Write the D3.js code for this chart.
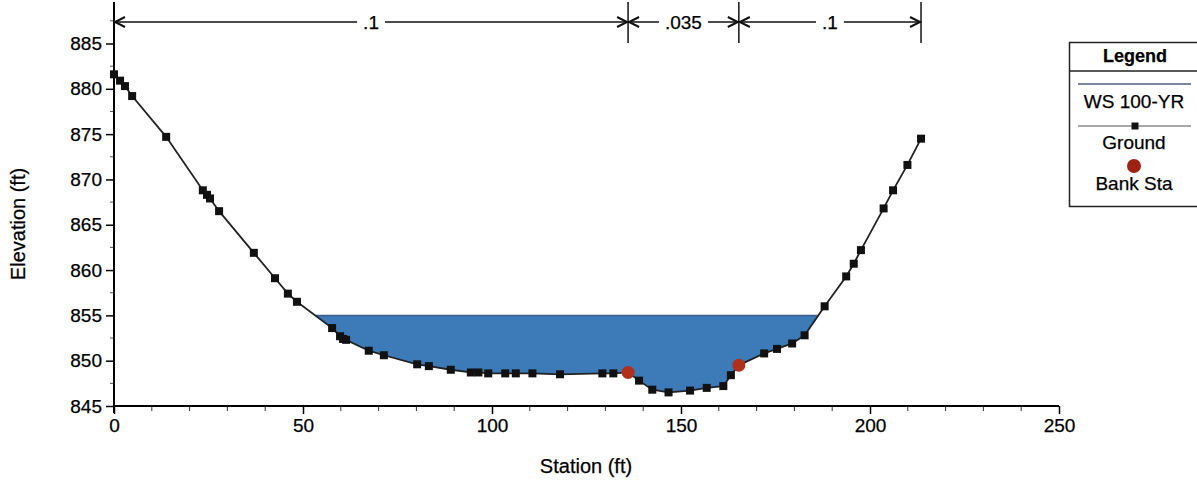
<!DOCTYPE html>
<html>
<head>
<meta charset="utf-8">
<script src="https://cdn.jsdelivr.net/npm/d3@7"></script>
<style>
  html, body { margin: 0; padding: 0; background: #fff; }
  svg { display: block; font-family: "Liberation Sans", Arial, sans-serif; }
  text { stroke: #000; stroke-width: 0.25px; }
</style>
</head>
<body>
<svg id="chart" width="1197" height="483"></svg>
<script>
// ---- Data ----
const stations = [0, 1.6, 2.9, 4.8, 13.8, 23.5, 24.6, 25.4, 27.8, 37.0, 42.6, 46.0, 48.4,
  57.7, 59.8, 60.6, 61.4, 67.4, 71.4, 80.2, 83.3, 89.1, 94.4, 96.4, 99.0, 103.5, 106.3,
  110.7, 118.0, 129.2, 132.1, 136.0, 138.9, 142.4, 146.7, 152.4, 156.8, 161.2, 163.2,
  165.3, 172.0, 175.4, 179.4, 182.7, 188.0, 193.7, 195.7, 197.6, 203.6, 206.1, 209.9, 213.5];
const elevations = [881.6, 880.9, 880.3, 879.2, 874.7, 868.8, 868.3, 867.9, 866.5, 861.9, 859.1, 857.4, 856.5,
  853.6, 852.7, 852.4, 852.3, 851.1, 850.6, 849.6, 849.4, 849.0, 848.7, 848.7, 848.6, 848.6, 848.6,
  848.6, 848.5, 848.6, 848.6, 848.7, 847.8, 846.8, 846.5, 846.7, 847.0, 847.2, 848.4,
  849.5, 850.8, 851.3, 851.9, 852.8, 856.0, 859.3, 860.7, 862.2, 866.8, 868.8, 871.6, 874.5];
const bankStations = [136.0, 165.3];
const bankElevations = [848.7, 849.5];
const wsElevation = 855.0;          // WS 100-YR
const nValues = [".1", ".035", ".1"];
const nBreaks = [0, 136.0, 165.3, 213.5];
const xTicks = [0, 50, 100, 150, 200, 250];
const yTicks = [845, 850, 855, 860, 865, 870, 875, 880, 885];
const legendItems = ["WS 100-YR", "Ground", "Bank Sta"];

// ---- Layout ----
const svg = d3.select("#chart");
const x = d3.scaleLinear().domain([0, 250]).range([114, 1059]);
const y = d3.scaleLinear().domain([845, 885]).range([406, 43.5]);

const ground = stations.map((s, i) => ({ s, e: elevations[i] }));

// ---- Water polygon (ground below WS) ----
const water = [];
for (let i = 0; i < ground.length - 1; i++) {
  const a = ground[i], b = ground[i + 1];
  const aw = a.e < wsElevation, bw = b.e < wsElevation;
  if (aw) water.push(a);
  if (aw !== bw) {
    const t = (wsElevation - a.e) / (b.e - a.e);
    water.push({ s: a.s + t * (b.s - a.s), e: wsElevation });
  }
}
if (ground[ground.length - 1].e < wsElevation) water.push(ground[ground.length - 1]);
const wsLeft = water[0].s, wsRight = water[water.length - 1].s;

svg.append("path")
  .attr("d", d3.line().x(d => x(d.s)).y(d => y(d.e))(water) + "Z")
  .attr("fill", "#3c7ab8");
svg.append("line")
  .attr("x1", x(wsLeft)).attr("x2", x(wsRight))
  .attr("y1", y(wsElevation)).attr("y2", y(wsElevation))
  .attr("stroke", "#3e5f8e").attr("stroke-width", 1.5);

// ---- Axes ----
const axisColor = "#000";
const yAxis = d3.axisLeft(y).tickValues(yTicks).tickSize(8).tickPadding(4).tickFormat(d3.format("d"));
const xAxis = d3.axisBottom(x).tickValues(xTicks).tickSize(8).tickPadding(5).tickFormat(d3.format("d"));

// minor ticks
const yMinor = d3.range(847.5, 889, 5);
const xMinor = d3.range(10, 250, 10).filter(v => v % 50 !== 0);
svg.append("g").selectAll("line").data(yMinor).join("line")
  .attr("x1", 110).attr("x2", 114).attr("y1", d => y(d)).attr("y2", d => y(d))
  .attr("stroke", "#555").attr("stroke-width", 1);
svg.append("g").selectAll("line").data(xMinor).join("line")
  .attr("x1", d => x(d)).attr("x2", d => x(d)).attr("y1", 406).attr("y2", 411)
  .attr("stroke", "#333").attr("stroke-width", 1);

const gy = svg.append("g").attr("transform", "translate(114,0)").call(yAxis);
gy.select(".domain").remove();
gy.selectAll(".tick line").attr("stroke", axisColor).attr("stroke-width", 1.5);
gy.selectAll(".tick text").attr("font-size", 19).attr("fill", "#000")
  .attr("font-family", "Liberation Sans, Arial, sans-serif");

const gx = svg.append("g").attr("transform", "translate(0,406)").call(xAxis);
gx.select(".domain").remove();
gx.selectAll(".tick line").attr("stroke", axisColor).attr("stroke-width", 1.5);
gx.selectAll(".tick text").attr("font-size", 19).attr("fill", "#000")
  .attr("font-family", "Liberation Sans, Arial, sans-serif");

// axis lines
svg.append("line").attr("x1", 114).attr("x2", 114).attr("y1", 2).attr("y2", 413)
  .attr("stroke", "#000").attr("stroke-width", 2);
svg.append("line").attr("x1", 114).attr("x2", x(250)).attr("y1", 406).attr("y2", 406)
  .attr("stroke", "#000").attr("stroke-width", 2);

// axis titles
svg.append("text").attr("x", 586).attr("y", 473).attr("text-anchor", "middle")
  .attr("font-size", 20).text("Station (ft)");
svg.append("text").attr("transform", "translate(25,224) rotate(-90)").attr("text-anchor", "middle")
  .attr("font-size", 20).text("Elevation (ft)");

// ---- Ground line and markers ----
svg.append("path")
  .attr("d", d3.line().x(d => x(d.s)).y(d => y(d.e))(ground))
  .attr("fill", "none").attr("stroke", "#222").attr("stroke-width", 1.8);
const sq = 8;
svg.append("g").selectAll("rect").data(ground).join("rect")
  .attr("x", d => x(d.s) - sq / 2).attr("y", d => y(d.e) - sq / 2)
  .attr("width", sq).attr("height", sq).attr("fill", "#111");

// ---- Bank stations ----
svg.append("g").selectAll("circle").data(bankStations).join("circle")
  .attr("cx", d => x(d)).attr("cy", (d, i) => y(bankElevations[i])).attr("r", 6.5)
  .attr("fill", "#b0301c");

// ---- Manning's n annotation ----
const annY = 22;
const ann = svg.append("g");
nBreaks.forEach((b, i) => {
  if (i > 0) {
    ann.append("line").attr("x1", x(b)).attr("x2", x(b)).attr("y1", 2).attr("y2", 43)
      .attr("stroke", "#222").attr("stroke-width", 1.6);
  }
});
ann.append("line").attr("x1", x(nBreaks[0])).attr("x2", x(nBreaks[nBreaks.length - 1]))
  .attr("y1", annY).attr("y2", annY).attr("stroke", "#111").attr("stroke-width", 1.6);
function arrow(px, dir) { // dir: -1 points left, +1 points right
  const l = 10, h = 5;
  ann.append("path")
    .attr("d", `M${px - dir * l},${annY - h} L${px},${annY} L${px - dir * l},${annY + h}`)
    .attr("fill", "none").attr("stroke", "#111").attr("stroke-width", 2);
}
nValues.forEach((v, i) => {
  const a = x(nBreaks[i]), b = x(nBreaks[i + 1]);
  arrow(a + 1, -1);
  arrow(b - 1, 1);
  const cx = (a + b) / 2;
  const t = ann.append("text").attr("x", cx).attr("y", annY + 7).attr("text-anchor", "middle")
    .attr("font-size", 19).text(v);
  const bb = t.node().getBBox();
  ann.insert("rect", "text").attr("x", bb.x - 6).attr("y", annY - 4).attr("width", bb.width + 12)
    .attr("height", 8).attr("fill", "#fff");
});

// ---- Legend ----
const lg = svg.append("g");
lg.append("rect").attr("x", 1069.5).attr("y", 42.5).attr("width", 140).attr("height", 164)
  .attr("fill", "#fff").attr("stroke", "#222").attr("stroke-width", 1.5);
lg.append("line").attr("x1", 1069).attr("x2", 1197).attr("y1", 71).attr("y2", 71)
  .attr("stroke", "#222").attr("stroke-width", 1.5);
lg.append("text").attr("x", 1135).attr("y", 62).attr("text-anchor", "middle")
  .attr("font-size", 18).attr("font-weight", "bold").text("Legend");
lg.append("line").attr("x1", 1078).attr("x2", 1191).attr("y1", 84).attr("y2", 84)
  .attr("stroke", "#4e5d80").attr("stroke-width", 1.5);
lg.append("text").attr("x", 1134).attr("y", 108).attr("text-anchor", "middle")
  .attr("font-size", 19).text(legendItems[0]);
lg.append("line").attr("x1", 1078).attr("x2", 1191).attr("y1", 126).attr("y2", 126)
  .attr("stroke", "#555").attr("stroke-width", 1.2);
lg.append("rect").attr("x", 1135 - 3.5).attr("y", 126 - 3.5).attr("width", 7).attr("height", 7)
  .attr("fill", "#111");
lg.append("text").attr("x", 1134).attr("y", 149).attr("text-anchor", "middle")
  .attr("font-size", 19).text(legendItems[1]);
lg.append("circle").attr("cx", 1134).attr("cy", 166).attr("r", 7).attr("fill", "#9e2214");
lg.append("text").attr("x", 1134).attr("y", 190).attr("text-anchor", "middle")
  .attr("font-size", 19).text(legendItems[2]);
</script>
</body>
</html>
